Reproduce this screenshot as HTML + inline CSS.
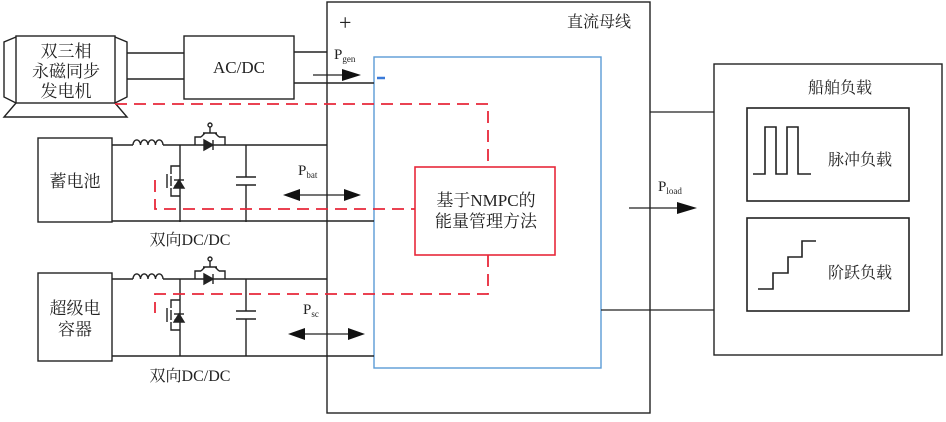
<!DOCTYPE html>
<html><head><meta charset="utf-8"><style>
body{margin:0;background:#fff}
svg text{font-family:"Liberation Serif","Noto Serif CJK SC",serif;fill:#222}
</style></head><body>
<svg width="946" height="417" viewBox="0 0 946 417" xmlns="http://www.w3.org/2000/svg">
<defs>
<g id="conv" stroke="#222" stroke-width="1.4" fill="none">
  <path d="M112 0 H133"/>
  <path d="M133 0 a3.7 5 0 0 1 7.5 0 a3.7 5 0 0 1 7.5 0 a3.7 5 0 0 1 7.5 0 a3.7 5 0 0 1 7.5 0"/>
  <path d="M163 0 H195 M225 0 H327"/>
  <path d="M195 0 V-8 H201 M219 -8 H225 V0"/>
  <path d="M203 -12 H217 M201 -8 L205 -12 M219 -8 L215 -12"/>
  <path d="M210 -12 V-18"/><circle cx="210" cy="-20" r="2"/>
  <path d="M195 0 H225"/>
  <polygon points="204,-5 204,5 213,0" fill="#222"/><path d="M213 -5 V5"/>
  <path d="M180 0 V77"/>
  <path d="M180 21 H171 V29 M171 43 V51 H180"/>
  <path d="M167 29 V43"/><path d="M171 31 V41"/>
  <polygon points="174,41 180,35 180,43" fill="#222" stroke="none"/>
  <polygon points="174,43 184,43 179,35" fill="#222"/><path d="M174 35 H184"/>
  <path d="M246 0 V32 M246 40 V77"/>
  <path d="M236 32 H256 M236 40 H256"/>
</g>
</defs>

<rect x="327" y="2" width="323" height="411" fill="none" stroke="#222" stroke-width="1.4"/>
<text x="339" y="30" font-size="22" font-family="Liberation Sans">+</text>
<text x="567" y="27" font-size="16">直流母线</text>
<rect x="374" y="57" width="227" height="311" fill="none" stroke="#5b9bd5" stroke-width="1.4"/>
<path d="M377 78 H385" stroke="#3a7ad8" stroke-width="2.5"/>

<g stroke="#222" stroke-width="1.4" fill="none">
  <rect x="16" y="36" width="99" height="67"/>
  <path d="M16 37 L4 42 V97 L16 103"/>
  <path d="M115 37 L127 42 V97 L115 103"/>
  <path d="M16 103 L4 117 H127 L115 103"/>
  <path d="M127 53 H184 M127 79 H184"/>
  <rect x="184" y="36" width="110" height="63"/>
  <path d="M294 52 H327 M294 83 H374"/>
</g>
<text x="66" y="57" font-size="17" text-anchor="middle">双三相</text>
<text x="66" y="77" font-size="17" text-anchor="middle">永磁同步</text>
<text x="66" y="97" font-size="17" text-anchor="middle">发电机</text>
<text x="239" y="73" font-size="17" text-anchor="middle">AC/DC</text>
<text x="334" y="59" font-size="15">P<tspan font-size="9" dy="3">gen</tspan></text>
<path d="M313 75 H345" stroke="#222" stroke-width="1.3"/><polygon points="342,69 361,75 342,81" fill="#111"/>

<rect x="38" y="138" width="74" height="84" fill="none" stroke="#222" stroke-width="1.4"/>
<text x="75" y="187" font-size="17" text-anchor="middle">蓄电池</text>
<use href="#conv" transform="translate(0,145)"/>
<path d="M112 221 H374" stroke="#222" stroke-width="1.4"/>
<text x="190" y="245" font-size="16" text-anchor="middle">双向DC/DC</text>
<text x="298" y="175" font-size="15">P<tspan font-size="9" dy="3">bat</tspan></text>
<path d="M296 195 H348" stroke="#222" stroke-width="1.3"/>
<polygon points="283,195 300,189 300,201" fill="#111"/><polygon points="361,195 344,189 344,201" fill="#111"/>

<rect x="38" y="273" width="74" height="88" fill="none" stroke="#222" stroke-width="1.4"/>
<text x="75" y="314" font-size="17" text-anchor="middle">超级电</text>
<text x="75" y="335" font-size="17" text-anchor="middle">容器</text>
<use href="#conv" transform="translate(0,279)"/>
<path d="M112 356 H374" stroke="#222" stroke-width="1.4"/>
<text x="190" y="381" font-size="16" text-anchor="middle">双向DC/DC</text>
<text x="303" y="314" font-size="15">P<tspan font-size="9" dy="3">sc</tspan></text>
<path d="M300 334 H352" stroke="#222" stroke-width="1.3"/>
<polygon points="288,334 305,328 305,340" fill="#111"/><polygon points="365,334 348,328 348,340" fill="#111"/>

<g stroke="#e8283a" stroke-width="1.8" fill="none" stroke-dasharray="12,7">
  <path d="M115 104 H488 V167"/>
  <path d="M155 180 V209 H415"/>
  <path d="M488 255 V294 H155 V313"/>
</g>
<rect x="415" y="167" width="140" height="88" fill="#fff" stroke="#e8283a" stroke-width="1.6"/>
<text x="486" y="206" font-size="17" text-anchor="middle">基于NMPC的</text>
<text x="486" y="227" font-size="17" text-anchor="middle">能量管理方法</text>

<path d="M650 112 H714 M601 310 H714" stroke="#222" stroke-width="1.3"/>
<text x="658" y="191" font-size="15">P<tspan font-size="9" dy="3">load</tspan></text>
<path d="M629 208 H680" stroke="#222" stroke-width="1.3"/><polygon points="677,202 697,208 677,214" fill="#111"/>

<rect x="714" y="64" width="228" height="291" fill="none" stroke="#222" stroke-width="1.4"/>
<text x="808" y="93" font-size="16">船舶负载</text>
<rect x="747" y="108" width="162" height="93" fill="none" stroke="#222" stroke-width="1.6"/>
<path d="M753 174 H765 V127 H776 V174 H787 V127 H798 V174 H811" fill="none" stroke="#222" stroke-width="1.6"/>
<text x="828" y="165" font-size="16">脉冲负载</text>
<rect x="747" y="218" width="162" height="93" fill="none" stroke="#222" stroke-width="1.6"/>
<path d="M758 289 H773 V273 H788 V257 H802 V241 H816" fill="none" stroke="#222" stroke-width="1.6"/>
<text x="828" y="278" font-size="16">阶跃负载</text>
</svg>
</body></html>
